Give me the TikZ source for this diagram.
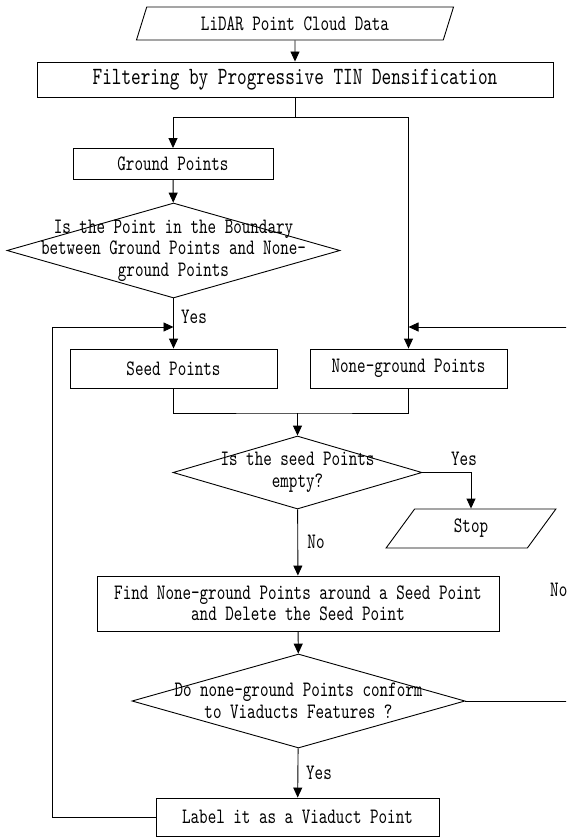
\documentclass[tikz,border=0pt]{standalone}
\usepackage{fontspec}
\setmonofont{lmmono10-regular.otf}[FakeStretch=0.74]
\usetikzlibrary{arrows.meta,shapes.geometric}
\newcommand\flowtxt{\ttfamily\fontsize{22}{21.5}\selectfont}
\newcommand\flowbig{\ttfamily\fontsize{24.8}{24}\selectfont}
\begin{document}
\begin{tikzpicture}[x=1pt,y=-1pt,
  ln/.style={line width=0.9pt},
  box/.style={draw, ln, inner sep=0pt, font=\flowtxt, align=center},
  dia/.style={draw, ln, diamond, inner sep=0pt},
  para/.style={draw, ln, trapezium, trapezium left angle=65, trapezium right angle=115,
    trapezium stretches=true, inner sep=0pt, font=\flowtxt},
  txt/.style={font=\flowtxt, align=center, inner sep=0pt},
  lbl/.style={font=\flowtxt, inner sep=0pt},
  arr/.style={ln, -{Triangle[length=10pt,width=9pt]}}]
\useasboundingbox (0,0) rectangle (566,837);
\clip (0,0) rectangle (566,837);

\node[para, minimum width=318, minimum height=33] (in) at (295,23.5) {LiDAR Point Cloud Data};
\node[box, minimum width=516, minimum height=35, font=\flowbig] (filt) at (295,79.5) {Filtering by Progressive TIN Densification};
\node[box, minimum width=200, minimum height=31] (gp) at (173,164) {Ground Points};
\node[dia, minimum width=333, minimum height=95] (d1) at (173.5,250.5) {};
\node[txt] (d1t) at (d1) {Is the Point in the Boundary\\between Ground Points and None-\\ground Points};
\node[box, minimum width=207, minimum height=39] (seed) at (173.5,368.5) {Seed Points};
\node[box, minimum width=197, minimum height=39] (none) at (408.5,368.5) {None-ground Points};
\node[dia, minimum width=249, minimum height=73] (d2) at (297.5,472.5) {};
\node[txt] (d2t) at (d2) {Is the seed Points\\empty?};
\node[para, minimum width=170, minimum height=39] (stop) at (471,528.5) {Stop};
\node[box, minimum width=402, minimum height=55] (find) at (298,603.5) {Find None-ground Points around a Seed Point\\and Delete the Seed Point};
\node[dia, minimum width=333, minimum height=94] (d3) at (298.5,701) {};
\node[txt] (d3t) at (d3) {Do none-ground Points conform\\to Viaducts Features ?};
\node[box, minimum width=283, minimum height=38] (lab) at (297.5,817) {Label it as a Viaduct Point};

\node[lbl, anchor=west] (y1) at (181,317) {Yes};
\node[lbl] (y2) at (464,459) {Yes};
\node[lbl] (n2) at (316,542) {No};
\node[lbl, anchor=west] (n3) at (550,590) {No};
\node[lbl] (y3) at (319,773) {Yes};

\coordinate (fs) at (295,117);
\coordinate (jl) at (173.5,327);
\coordinate (jr) at (408.5,327);
\coordinate (ll) at (52,327);
\coordinate (rr) at (580,327);
\coordinate (jm) at (297.5,413);

\draw[arr] (in) -- (filt);
\draw[ln] (filt.south) -- (fs);
\draw[arr] (fs) -| (gp);
\draw[arr] (fs) -| (none);
\draw[arr] (gp) -- (d1);
\draw[arr] (d1) -- (seed);
\draw[arr] (lab.west) -| (ll) -- (jl);
\draw[arr] (d3.east) -| (rr) -- (jr);
\draw[ln] (seed.south) |- (jm) -| (none.south);
\draw[arr] (jm) -- (d2);
\draw[arr] (d2.east) -| (stop);
\draw[arr] (d2) -- (find);
\draw[arr] (find) -- (d3);
\draw[arr] (d3) -- (lab);
\end{tikzpicture}
\end{document}
